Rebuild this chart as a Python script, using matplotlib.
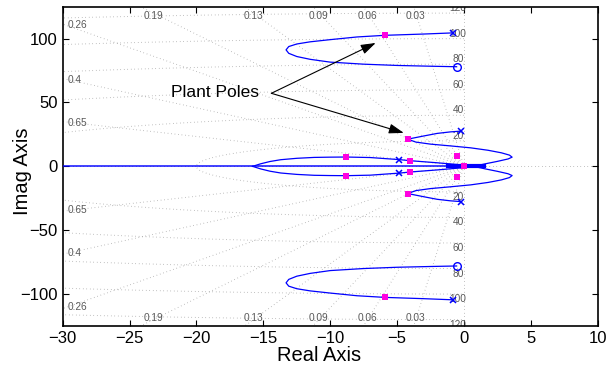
import numpy as np
import matplotlib.pyplot as plt

plt.rcParams["font.family"] = ["Liberation Sans", "DejaVu Sans"]

# ---- sgrid values (damping ratios and natural frequencies) ----
zeta_vals = [0.03, 0.06, 0.09, 0.13, 0.19, 0.26, 0.4, 0.65]
zeta_labels = ["0.03", "0.06", "0.09", "0.13", "0.19", "0.26", "0.4", "0.65"]
wn_vals = [20, 40, 60, 80, 100, 120]
wn_labels = ["20", "40", "60", "80", "100", "120"]

# ---- root locus branches, upper half (lower half is the conjugate) ----
# outer loop: pole near 104j -> zero near 78j
loop_re = [-0.8, -3.0, -5.9, -8.0, -10.0, -11.5, -12.5, -13.1, -13.3, -13.1, -12.5,
           -11.5, -10.0, -7.5, -5.0, -2.5, -0.55]
loop_im = [104.5, 103.6, 102.6, 101.3, 99.2, 97.5, 95.8, 93.8, 91.2, 88.5, 86.0,
           83.8, 81.6, 80.0, 79.0, 78.4, 78.0]

# branch from pole near 27j, swinging into the right half plane
mid_re = [-0.2, -1.0, -2.0, -3.0, -4.2, -3.6, -2.5, -1.0, 0.5, 1.8, 2.8, 3.4,
          3.6, 3.3, 2.5, 1.6, 0.9]
mid_im = [27.6, 27.0, 25.8, 23.8, 21.3, 19.0, 17.4, 16.0, 14.5, 12.6, 10.6, 8.8,
          7.2, 5.8, 3.9, 2.0, 0.4]

# inner branch: break-away at -15.8 on the real axis
inner_re = [-15.8, -15.2, -14.5, -13.7, -12.5, -11.2, -10.0, -8.8, -7.0, -5.8,
            -4.85, -4.0, -3.0, -2.0, -1.0, 0.0, 0.8]
inner_im = [0.0, 2.0, 3.8, 5.2, 6.3, 7.0, 7.2, 7.3, 6.9, 6.0, 5.3, 4.4, 3.6,
            2.8, 1.9, 1.0, 0.3]

# real axis part of the locus
real_re = [-30.0, 1.4]
real_near_origin = [-1.2, 1.5]

# open loop poles / zeros (upper half)
pole_re = [-0.8, -0.2, -4.85]
pole_im = [104.5, 27.6, 5.3]
zero_re = [-0.55]
zero_im = [78.0]

# closed loop poles at chosen gain (upper half)
cl_re = [-5.9, -4.2, -8.8, -4.0, -0.5, 0.0]
cl_im = [102.6, 21.3, 7.3, 4.4, 8.4, 0.0]

XLIM = (-30, 10)
YLIM = (-125, 125)

fig = plt.figure(figsize=(6.07, 3.68), dpi=100)
ax = fig.add_axes([0.1033, 0.1141, 0.8814, 0.8677])

# ---- sgrid ----
grid_kw = dict(color="0.6", lw=0.7, dashes=(0.6, 3.0), zorder=1)
for z in zeta_vals:
    s = np.sqrt(1 - z ** 2)
    ax.plot([0, -300 * z], [0, 300 * s], **grid_kw)
    ax.plot([0, -300 * z], [0, -300 * s], **grid_kw)
th = np.linspace(np.pi / 2, 3 * np.pi / 2, 400)
for w in wn_vals:
    ax.plot(w * np.cos(th), w * np.sin(th), **grid_kw)
ax.plot([0, 0], [-200, 200], **grid_kw)
ax.plot([-40, 20], [0, 0], **grid_kw)

lab_kw = dict(fontsize=7.3, color="0.35", clip_on=True, zorder=2)
for z, lab in zip(zeta_vals, zeta_labels):
    slope = np.sqrt(1 - z ** 2) / z
    if 30 * slope < 118:
        yy = 30 * slope - 1.0
        ax.text(-29.6, yy, lab, ha="left", va="center", **lab_kw)
        ax.text(-29.6, -yy, lab, ha="left", va="center", **lab_kw)
    else:
        xx = -120 / slope
        ax.text(xx, 117.5, lab, ha="center", va="center", **lab_kw)
        ax.text(xx, -118.5, lab, ha="center", va="center", **lab_kw)
for w, lab in zip(wn_vals, wn_labels):
    ax.text(-0.45, w, lab, ha="center", va="bottom", **lab_kw)
    ax.text(-0.45, -w, lab, ha="center", va="top", **lab_kw)

# ---- locus ----
blue = "#0000ff"
ax.plot(real_re, [0, 0], color=blue, lw=1.3, alpha=0.8, zorder=3)
ax.plot(real_near_origin, [0, 0], color=blue, lw=3, zorder=3)
for re, im in [(loop_re, loop_im), (mid_re, mid_im), (inner_re, inner_im)]:
    im = np.array(im)
    ax.plot(re, im, color=blue, lw=0.9, zorder=3)
    ax.plot(re, -im, color=blue, lw=0.9, zorder=3)

ax.plot(pole_re + pole_re, pole_im + [-v for v in pole_im], "x", color=blue,
        ms=5, mew=1.1, zorder=4)
ax.plot(zero_re + zero_re, zero_im + [-v for v in zero_im], "o", mfc="none",
        mec=blue, ms=5.5, mew=1.0, zorder=4)
ax.plot(cl_re + cl_re, cl_im + [-v for v in cl_im], "s", color="#ff00e0",
        ms=5, mew=0, zorder=5)

# ---- annotation ----
ax.text(-18.6, 58, "Plant Poles", fontsize=12.5, ha="center", va="center", zorder=6)
arrow_kw = dict(arrowstyle="-|>,head_length=0.9,head_width=0.3", color="k",
                lw=0.8, shrinkA=0, shrinkB=0)
ax.annotate("", xy=(-6.6, 96.6), xytext=(-14.4, 57.2), arrowprops=arrow_kw, zorder=6)
ax.annotate("", xy=(-4.5, 26.2), xytext=(-14.4, 57.2), arrowprops=arrow_kw, zorder=6)

# ---- axes ----
ax.set_xlim(*XLIM)
ax.set_ylim(*YLIM)
ax.set_xticks(range(-30, 11, 5))
ax.set_yticks([-100, -50, 0, 50, 100])
ax.tick_params(direction="in", top=True, right=True, length=4, width=0.8,
               labelsize=12)
for sp in ax.spines.values():
    sp.set_linewidth(1.2)
ax.set_xlabel("Real Axis", fontsize=14.5)
ax.set_ylabel("Imag Axis", fontsize=14.5)
ax.xaxis.set_label_coords(0.479, -0.062)
ax.xaxis.label.set_va("top")
ax.yaxis.set_label_coords(-0.0574, 0.485)

fig.savefig("out.png", dpi=100)
